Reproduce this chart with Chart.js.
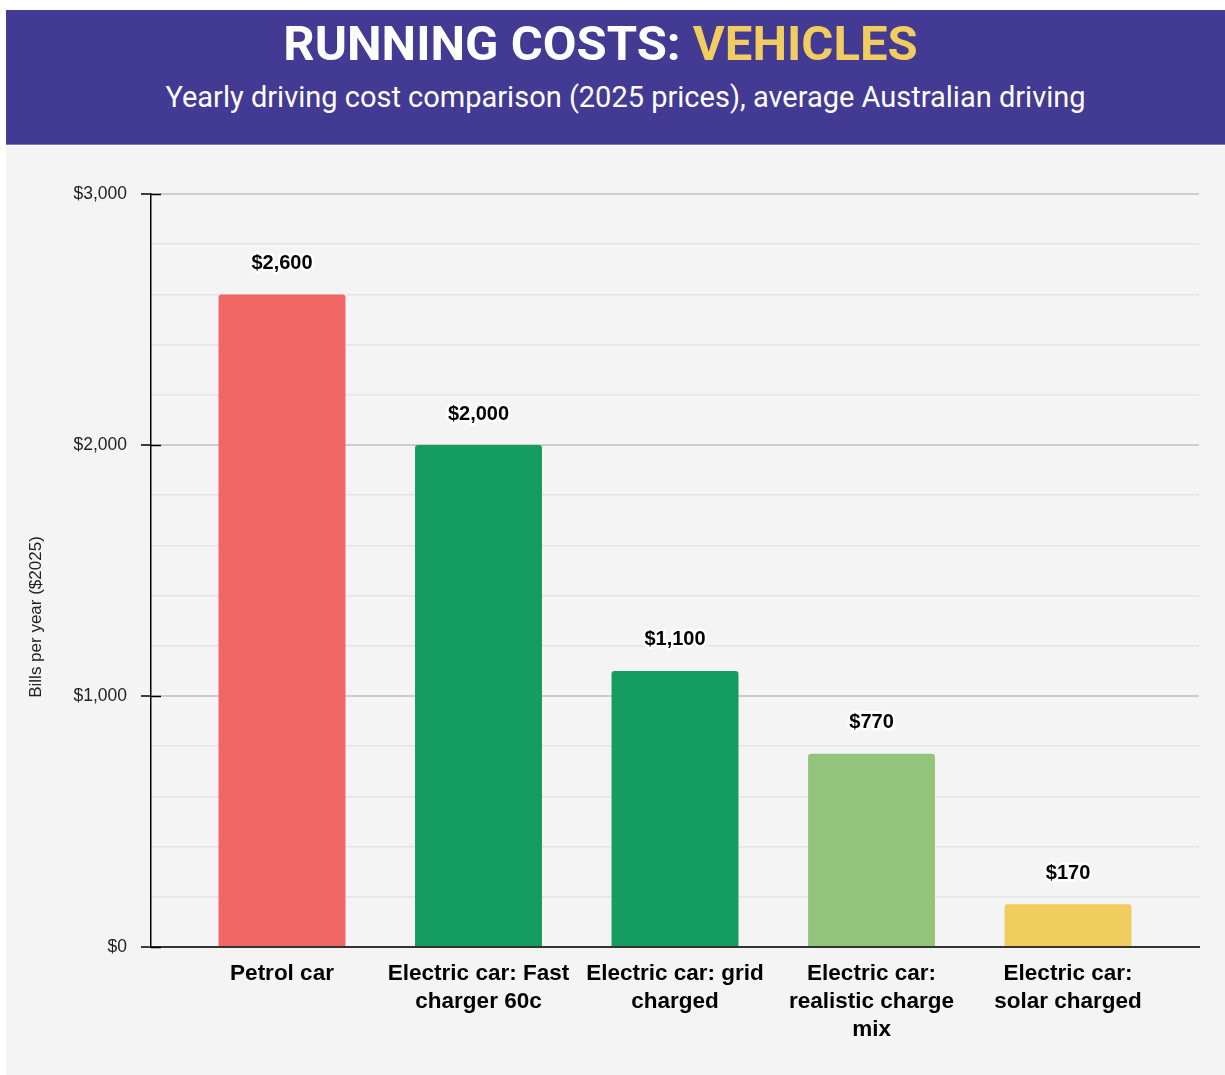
<!DOCTYPE html>
<html lang="en">
<head>
<meta charset="utf-8">
<title>Running costs: vehicles</title>
<script src="https://cdn.jsdelivr.net/npm/chart.js@4.4.1/dist/chart.umd.min.js"></script>
<style>
  html, body { margin: 0; padding: 0; background: #fff; }
  body { width: 1225px; height: 1075px; position: relative; overflow: hidden; }
  .header {
    position: absolute; left: 6px; top: 10px; width: 1219px; height: 135px;
    background: #433a93; border-bottom: 1px solid #7d77b6; box-sizing: border-box;
    font-family: Roboto, "Noto Sans", sans-serif; color: #fff; text-align: center;
  }
  .header h1 { margin: 0; position: absolute; left: 0; right: 30px; top: 6px; font-size: 49px; font-weight: 700; line-height: 56px; }
  .header h1 span { color: #f0cd5e; }
  .header p { margin: 0; position: absolute; left: 20px; right: 0; top: 68px; font-size: 29px; line-height: 38px; }
  .panel { position: absolute; left: 6px; top: 146px; width: 1219px; height: 929px; background: #f4f4f4; }
</style>
</head>
<body>
<div class="header">
  <h1>RUNNING COSTS: <span>VEHICLES</span></h1>
  <p>Yearly driving cost comparison (2025 prices), average Australian driving</p>
</div>
<div class="panel"><canvas id="chart" width="1219" height="929"></canvas></div>

<script>
// ---- data ----
const CATEGORIES = [
  'Petrol car',
  ['Electric car: Fast', 'charger 60c'],
  ['Electric car: grid', 'charged'],
  ['Electric car:', 'realistic charge', 'mix'],
  ['Electric car:', 'solar charged']
];
const COSTS  = [2600, 2000, 1100, 770, 170];
const COLORS = ['#f06664', '#159c5f', '#159c5f', '#92c47c', '#f0cd5e'];
const Y_TITLE = 'Bills per year ($2025)';

const money = v => '$' + Number(v).toLocaleString('en-US');
const isMajor = v => v % 1000 === 0;

// value labels above bars (white halo) + y title + inner half of tick marks
const extras = {
  id: 'extras',
  afterDraw(chart) {
    const ctx = chart.ctx;
    const area = chart.chartArea;
    const y = chart.scales.y;

    ctx.save();
    ctx.strokeStyle = '#000';
    ctx.lineWidth = 1.5;
    y.ticks.forEach(t => {
      if (!isMajor(t.value)) return;
      const py = Math.round(y.getPixelForValue(t.value)) + 0.5;
      ctx.beginPath(); ctx.moveTo(area.left, py); ctx.lineTo(area.left + 10, py); ctx.stroke();
    });

    ctx.font = 'bold 20px "Liberation Sans", Arial, sans-serif';
    ctx.textAlign = 'center';
    ctx.textBaseline = 'middle';
    ctx.lineJoin = 'round';
    chart.getDatasetMeta(0).data.forEach((bar, i) => {
      const txt = money(COSTS[i]);
      ctx.strokeStyle = '#fff'; ctx.lineWidth = 5;
      ctx.strokeText(txt, bar.x, bar.y - 31);
      ctx.fillStyle = '#000';
      ctx.fillText(txt, bar.x, bar.y - 31);
    });

    ctx.translate(30, 471);
    ctx.rotate(-Math.PI / 2);
    ctx.font = '17px "Liberation Sans", Arial, sans-serif';
    ctx.fillStyle = '#222';
    ctx.fillText(Y_TITLE, 0, 0);
    ctx.restore();
  }
};

new Chart(document.getElementById('chart'), {
  type: 'bar',
  data: {
    labels: CATEGORIES,
    datasets: [{
      data: COSTS,
      backgroundColor: COLORS,
      borderRadius: { topLeft: 3, topRight: 3 },
      borderSkipped: 'bottom',
      categoryPercentage: 1,
      barPercentage: 0.646
    }]
  },
  options: {
    responsive: false,
    animation: false,
    layout: { padding: { top: 48, right: 26, left: 0, bottom: 0 } },
    plugins: { legend: { display: false }, tooltip: { enabled: false } },
    scales: {
      x: {
        // extra room left/right of the first/last category
        afterBuildTicks: s => { s._startValue -= 0.1667; s._valueRange += 0.3333; },
        afterFit: s => { s.height = 128; },
        grid: { display: false, drawTicks: false },
        border: { color: '#333', width: 2 },
        ticks: {
          color: '#000', padding: 13, maxRotation: 0, autoSkip: false,
          font: { family: '"Liberation Sans", Arial, sans-serif', size: 22.5, weight: 'bold', lineHeight: 1.245 }
        }
      },
      y: {
        min: 0, max: 3000,
        afterFit: s => { s.width = 145; },
        border: { color: '#000', width: 1.5 },
        grid: {
          color: c => isMajor(c.tick.value) ? '#cdcdcd' : '#e4e4e4',
          lineWidth: c => isMajor(c.tick.value) ? 2 : 1.5,
          tickColor: c => isMajor(c.tick.value) ? '#000' : 'rgba(0,0,0,0)',
          tickLength: 10,
          tickWidth: 1.5
        },
        ticks: {
          stepSize: 200, color: '#222', padding: 14,
          font: { family: '"Liberation Sans", Arial, sans-serif', size: 17.5 },
          callback: v => isMajor(v) ? money(v) : ''
        }
      }
    }
  },
  plugins: [extras]
});
</script>
</body>
</html>
